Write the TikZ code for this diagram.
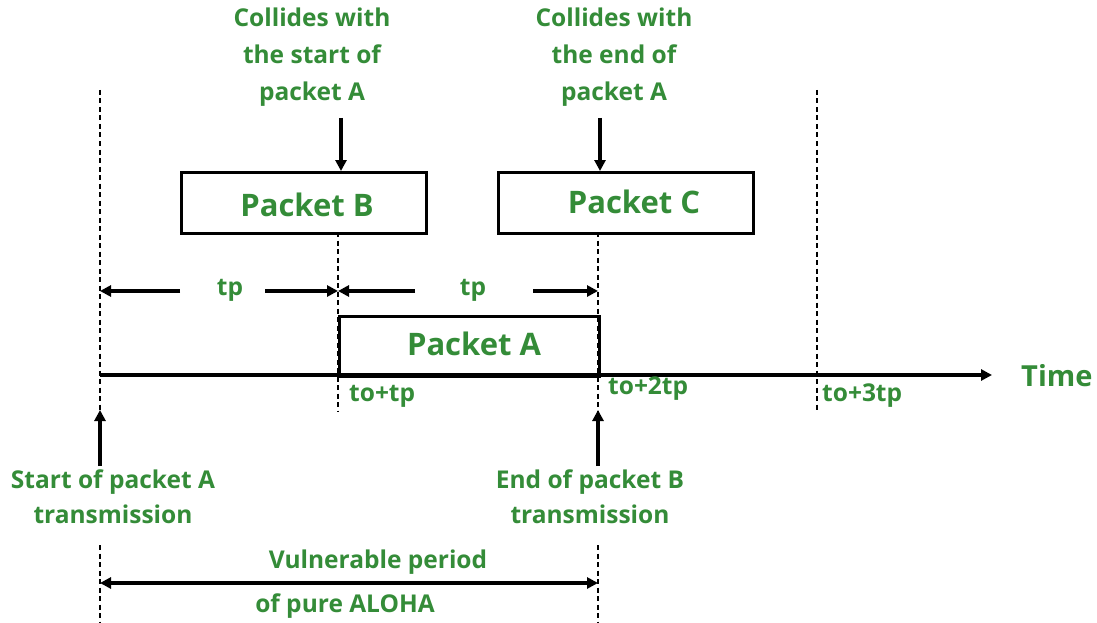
\documentclass[tikz,border=0pt]{standalone}
\usepackage{fontspec}
\setmainfont{Open Sans}
\usetikzlibrary{arrows.meta}
\definecolor{gg}{RGB}{52,140,56}
\begin{document}
\begin{tikzpicture}[x=1pt,y=-1pt,
  lbl/.style={text=gg,font=\bfseries\fontsize{24.5}{37}\selectfont,align=center,inner sep=0pt},
  big/.style={text=gg,font=\bfseries\fontsize{31}{34}\selectfont,inner sep=0pt},
  box/.style={draw=black,line width=3.4pt},
  dsh/.style={draw=black,line width=1.8pt,dash pattern=on 5pt off 3.5pt},
  arr/.style={draw=black,line width=3.4pt,-{Triangle[length=11pt,width=11pt]}},
  darr/.style={draw=black,line width=3.4pt,{Triangle[length=11pt,width=11pt]}-{Triangle[length=11pt,width=11pt]}}]
\useasboundingbox[fill=white] (0,0) rectangle (1097,623);
% dashed verticals
\coordinate (d1t) at (100,90); \coordinate (d1b) at (100,440);
\coordinate (d2t) at (338,232); \coordinate (d2b) at (338,412);
\coordinate (d3t) at (598,232); \coordinate (d3b) at (598,412);
\coordinate (d4t) at (817,90); \coordinate (d4b) at (817,412);
\coordinate (e1t) at (100,545); \coordinate (e1b) at (100,623);
\coordinate (e2t) at (598,545); \coordinate (e2b) at (598,623);
\draw[dsh] (d1t) -- (d1b);
\draw[dsh] (d2t) -- (d2b);
\draw[dsh] (d3t) -- (d3b);
\draw[dsh] (d4t) -- (d4b);
\draw[dsh] (e1t) -- (e1b);
\draw[dsh] (e2t) -- (e2b);
% packet boxes
\node[box,minimum width=245pt,minimum height=61pt,anchor=north west] (pb) at (180,171) {};
\node[big] (pbt) at (307,205) {Packet B};
\node[box,minimum width=255pt,minimum height=61pt,anchor=north west] (pc) at (497,171) {};
\node[big] (pct) at (634,202) {Packet C};
\node[box,minimum width=260pt,minimum height=60pt,anchor=north west] (pa) at (338,315) {};
\node[big] (pat) at (474,344) {Packet A};
% time axis
\coordinate (t0) at (100,375);
\coordinate (t1) at (598,375);
\coordinate (t2) at (992,375);
\draw[line width=4.8pt] (t0) -- (t1);
\draw[arr] (t1) -- (t2);
\node[big,anchor=west,font=\bfseries\fontsize{29}{32}\selectfont] (time) at (1021,376) {Time};
% collide labels
\node[lbl] (c1) at (312,57) {Collides with\\the start of\\packet A};
\node[lbl] (c2) at (614,57) {Collides with\\the end of\\packet A};
\coordinate (c1a) at (341,118); \coordinate (c2a) at (600,118);
\draw[arr] (c1a) -- (pb.north -| c1a);
\draw[arr] (c2a) -- (pc.north -| c2a);
% tp arrows
\node[lbl] (tp1) at (230,290) {tp};
\node[lbl] (tp2) at (473,290) {tp};
\coordinate (a1) at (180,291); \coordinate (a2) at (265,291);
\coordinate (a3) at (415,291); \coordinate (a4) at (533,291);
\draw[arr] (a1) -- (d1t |- a1);
\draw[arr] (a2) -- (d2t |- a2);
\draw[arr] (a3) -- (d2t |- a3);
\draw[arr] (a4) -- (d3t |- a4);
% tick labels
\node[lbl,anchor=west] (l1) at (349,396) {to+tp};
\node[lbl,anchor=west] (l2) at (608,389) {to+2tp};
\node[lbl,anchor=west] (l3) at (822,396) {to+3tp};
% bottom labels
\node[lbl,font=\bfseries\fontsize{24.5}{35}\selectfont] (s1) at (113,497) {Start of packet A\\transmission};
\node[lbl,font=\bfseries\fontsize{24.5}{35}\selectfont] (s2) at (590,497) {End of packet B\\transmission};
\coordinate (u1) at (100,466); \coordinate (u2) at (598,466);
\draw[arr] (u1) -- (100,410);
\draw[arr] (u2) -- (598,410);
% vulnerable period
\coordinate (v1) at (100,583); \coordinate (v2) at (598,583);
\draw[darr] (v1) -- (v2);
\node[lbl] (vp1) at (378,562) {Vulnerable period};
\node[lbl] (vp2) at (345,606) {of pure ALOHA};
\end{tikzpicture}
\end{document}
